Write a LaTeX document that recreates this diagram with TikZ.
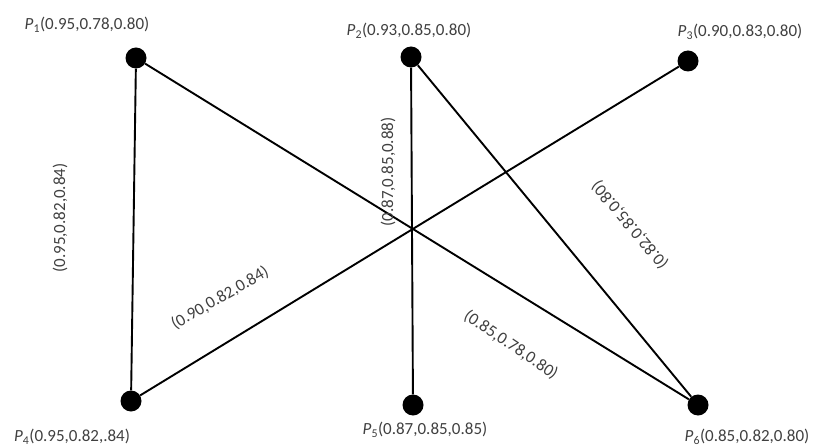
\documentclass[tikz,border=0pt]{standalone}
\usepackage{fontspec}
\setmainfont{Carlito}
\definecolor{lblgray}{RGB}{64,64,64}
\usetikzlibrary{positioning}

\begin{document}
\begin{tikzpicture}[x=1pt, y=-1pt,
      dot/.style={circle, fill=black, inner sep=0pt, minimum size=21pt},
      link/.style={line width=1.9pt, draw=black},
      ptlbl/.style={font=\fontsize{17}{20}\selectfont, text=lblgray, inner sep=1pt},
      wlbl/.style={font=\fontsize{17}{20}\selectfont, text=lblgray, inner sep=1pt}
    ]
    \useasboundingbox (0,0) rectangle (818,446);

    % points
    \node[dot] (p1) at (136,58)  {};
    \node[dot] (p2) at (411,57)  {};
    \node[dot] (p3) at (688,61)  {};
    \node[dot] (p4) at (131,401) {};
    \node[dot] (p5) at (413,405) {};
    \node[dot] (p6) at (698,405) {};

    \node[ptlbl] (l1) at (87,25)   {\textit{P}\textsubscript{1}(0.95,0.78,0.80)};
    \node[ptlbl] (l2) at (409,31)  {\textit{P}\textsubscript{2}(0.93,0.85,0.80)};
    \node[ptlbl] (l3) at (740,32)  {\textit{P}\textsubscript{3}(0.90,0.83,0.80)};
    \node[ptlbl] (l4) at (72,437)  {\textit{P}\textsubscript{4}(0.95,0.82,.84)};
    \node[ptlbl] (l5) at (425,430) {\textit{P}\textsubscript{5}(0.87,0.85,0.85)};
    \node[ptlbl] (l6) at (747,437) {\textit{P}\textsubscript{6}(0.85,0.82,0.80)};

    % links
    \draw[link] (p1) -- (p4);
    \draw[link] (p1) -- (p6);
    \draw[link] (p2) -- (p5);
    \draw[link] (p2) -- (p6);
    \draw[link] (p3) -- (p4);

    % link weights
    \node[wlbl, rotate=90]  (w14) at (60,218)  {(0.95,0.82,0.84)};
    \node[wlbl, rotate=90]  (w25) at (388,172) {(0.87,0.85,0.88)};
    \node[wlbl, rotate=130] (w26) at (630,225) {(0.82,0.85,0.80)};
    \node[wlbl, rotate=30]  (w34) at (220,298) {(0.90,0.82,0.84)};
    \node[wlbl, rotate=-34] (w16) at (511,345) {(0.85,0.78,0.80)};
\end{tikzpicture}
\end{document}
